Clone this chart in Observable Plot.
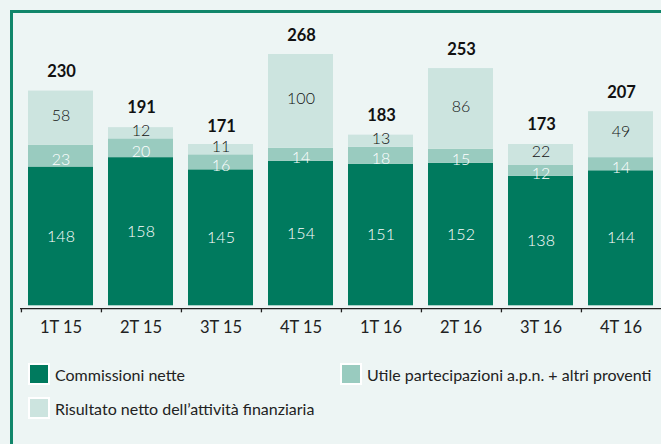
<!DOCTYPE html>
<html><head><meta charset="utf-8">
<script src="https://cdn.jsdelivr.net/npm/d3@7"></script>
<script src="https://cdn.jsdelivr.net/npm/@observablehq/plot@0.6"></script>
<style>
html,body{margin:0;padding:0;background:#edf5f4;width:661px;height:444px;overflow:hidden;font-family:Lato,"Open Sans",sans-serif;}
#frame{position:absolute;left:10px;top:10px;width:660px;height:440px;border-left:3px solid #10866a;border-top:3px solid #10866a;box-sizing:border-box;}
#chart{position:absolute;left:0;top:0;}
.leg{position:absolute;display:flex;align-items:center;font-size:16px;color:#222;white-space:nowrap;}
.sw{width:18px;height:18px;border:2px solid #fff;margin-right:5px;}
</style></head>
<body>
<div id="frame"></div>
<div id="chart"></div>
<div id="legend"></div>
<script>
const quarters = ["1T 15","2T 15","3T 15","4T 15","1T 16","2T 16","3T 16","4T 16"];
const commissioni = [148,158,145,154,151,152,138,144];
const utile = [23,20,16,14,18,15,12,14];
const risultato = [58,12,11,100,13,86,22,49];
const totals = [230,191,171,268,183,253,173,207];
const seriesNames = ["Commissioni nette","Utile partecipazioni a.p.n. + altri proventi","Risultato netto dell\u2019attivit\u00e0 finanziaria"];
const seriesColors = ["#007a5e","#99cbbf","#cce4df"];
const labelColors = ["#ffffff","#ffffff","#111111"];

const seriesValues = [commissioni, utile, risultato];
const rows = [];
seriesValues.forEach((vals, s) => quarters.forEach((q, i) => rows.push({q, s: seriesNames[s], si: s, v: vals[i]})));
const totalRows = quarters.map((q, i) => ({q, v: totals[i]}));

const W = 661, H = 340;
const step = (W - 20) / quarters.length;
const segLabelDy = [0, 3.5, -2.5];
const segLabels = seriesNames.map((n, s) =>
  Plot.text(rows, Plot.stackY({x: "q", y: "v", z: "s", order: seriesNames,
    text: d => d.si === s ? String(d.v) : null,
    fill: labelColors[s], fontSize: 16, fontWeight: 300, dy: segLabelDy[s], dx: -0.5})));

const plot = Plot.plot({
  width: W, height: H,
  marginLeft: 20, marginRight: 0, marginTop: 54, marginBottom: 34.7,
  style: {background: "transparent", fontFamily: "Lato, 'Open Sans', sans-serif", fontSize: "16px", color: "#222"},
  x: {domain: quarters, padding: 0, label: null},
  y: {domain: [0, 268], axis: null},
  color: {domain: seriesNames, range: seriesColors},
  marks: [
    Plot.barY(rows, {x: "q", y: "v", fill: "s", order: seriesNames, insetLeft: 7, insetRight: 8}),
    ...segLabels,
    Plot.text(totalRows, {x: "q", y: "v", text: d => d.v, dy: -18.5, fontSize: 16.5, fontWeight: "bold", fill: "#111"}),
    Plot.ruleY([-3], {stroke: "#222", strokeWidth: 1.3}),
    Plot.ruleX(quarters, {x: d => d, y1: -3, y2: -7.5, dx: -step / 2, stroke: "#222", strokeWidth: 1.3}),
    Plot.axisX({tickSize: 0, tickPadding: 15, fontSize: 16.5, fill: "#222", dx: -0.5})
  ]
});
document.getElementById("chart").appendChild(plot);

const legendPos = [[28, 363], [340, 363], [28, 397]];
const leg = document.getElementById("legend");
seriesNames.forEach((n, i) => {
  const d = document.createElement("div");
  d.className = "leg";
  d.style.left = legendPos[i][0] + "px";
  d.style.top = legendPos[i][1] + "px";
  d.innerHTML = `<div class="sw" style="background:${seriesColors[i]}"></div><span>${n}</span>`;
  leg.appendChild(d);
});
</script>
</body></html>
